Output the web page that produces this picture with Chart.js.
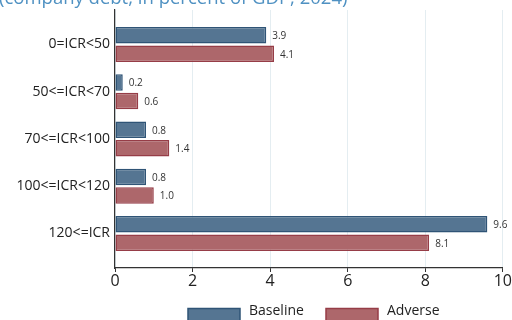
<!DOCTYPE html>
<html>
<head>
<meta charset="utf-8">
<script src="https://cdn.jsdelivr.net/npm/chart.js@4"></script>
<style>
  html, body { margin: 0; padding: 0; background: #fff; }
  #wrap { width: 512px; height: 320px; position: relative; }
</style>
</head>
<body>
<div id="wrap"><canvas id="chart"></canvas></div>
<script>
const categories = ["0=ICR<50", "50<=ICR<70", "70<=ICR<100", "100<=ICR<120", "120<=ICR"];
const baseline = [3.9, 0.2, 0.8, 0.8, 9.6];
const adverse = [4.1, 0.6, 1.4, 1.0, 8.1];
const xTicks = [0, 2, 4, 6, 8, 10];
const title = "(company debt, in percent of GDP, 2024)";

const FONT = "'Open Sans', 'Noto Sans', sans-serif";

// bars sit on a numeric y axis so the bands can have extra room at top and bottom
const toPoints = (vals) => vals.map((v, i) => ({ x: v, y: i }));

// value printed just right of each bar
const barLabels = {
    id: "barLabels",
    afterDatasetsDraw(chart) {
        const ctx = chart.ctx;
        ctx.save();
        ctx.font = "10px " + FONT;
        ctx.fillStyle = "#333";
        ctx.textBaseline = "middle";
        ctx.textAlign = "left";
        chart.data.datasets.forEach((ds, di) => {
            chart.getDatasetMeta(di).data.forEach((bar, i) => {
                ctx.fillText(ds.data[i].x.toFixed(1), bar.x + 6, bar.y + 1);
            });
        });
        ctx.restore();
    }
};

// subtitle line running off the top edge
const topTitle = {
    id: "topTitle",
    afterDraw(chart) {
        const ctx = chart.ctx;
        ctx.save();
        ctx.font = "18.5px " + FONT;
        ctx.fillStyle = "#4f91c2";
        ctx.textBaseline = "alphabetic";
        ctx.textAlign = "left";
        ctx.fillText(title, -1, 3.5);
        ctx.restore();
    }
};

// legend row under the x axis: wide swatches, text to the right
const bottomLegend = {
    id: "bottomLegend",
    afterDraw(chart) {
        const ctx = chart.ctx;
        const startX = [188, 326];
        ctx.save();
        ctx.font = "14px " + FONT;
        ctx.textBaseline = "middle";
        ctx.textAlign = "left";
        chart.data.datasets.forEach((ds, i) => {
            const x = startX[i];
            ctx.fillStyle = ds.backgroundColor;
            ctx.strokeStyle = ds.borderColor;
            ctx.lineWidth = 1.5;
            ctx.fillRect(x, 308.5, 52, 13);
            ctx.strokeRect(x, 308.5, 52, 13);
            ctx.fillStyle = "#222";
            ctx.fillText(ds.label, x + 61, 311);
        });
        ctx.restore();
    }
};

new Chart(document.getElementById("chart"), {
    type: "bar",
    data: {
        datasets: [
            {
                label: "Baseline",
                data: toPoints(baseline),
                backgroundColor: "#557592",
                borderColor: "#2f5476",
                borderWidth: 1.5,
                borderSkipped: false,
            },
            {
                label: "Adverse",
                data: toPoints(adverse),
                backgroundColor: "#ad676b",
                borderColor: "#963d47",
                borderWidth: 1.5,
                borderSkipped: false,
            },
        ],
    },
    options: {
        indexAxis: "y",
        responsive: true,
        maintainAspectRatio: false,
        animation: false,
        categoryPercentage: 0.78,
        barPercentage: 0.89,
        layout: { padding: { top: 10, right: 8, left: 0, bottom: 28 } },
        scales: {
            x: {
                type: "linear",
                min: 0,
                max: 10,
                afterBuildTicks: (axis) => { axis.ticks = xTicks.map((v) => ({ value: v })); },
                afterFit: (axis) => { axis.height = 24; },
                grid: { color: "#e4edf1", tickColor: "#333", tickLength: 4, lineWidth: 1 },
                border: { color: "#333", width: 1.2 },
                ticks: { color: "#222", font: { family: FONT, size: 16 }, padding: 0 },
            },
            y: {
                type: "linear",
                reverse: true,
                offset: false,
                min: -0.73,
                max: 4.73,
                afterBuildTicks: (axis) => { axis.ticks = categories.map((_, i) => ({ value: i })); },
                afterFit: (axis) => {
                    axis.width = 115;
                    axis.paddingTop = 0;
                    axis.paddingBottom = 0;
                },
                grid: { display: false, drawTicks: false, offset: false },
                border: { color: "#333", width: 1.2 },
                ticks: {
                    color: "#222",
                    font: { family: FONT, size: 14 },
                    padding: 5,
                    callback: (v) => categories[v],
                },
            },
        },
        plugins: {
            legend: { display: false },
            tooltip: { enabled: false },
        },
    },
    plugins: [barLabels, topTitle, bottomLegend],
});
</script>
</body>
</html>
